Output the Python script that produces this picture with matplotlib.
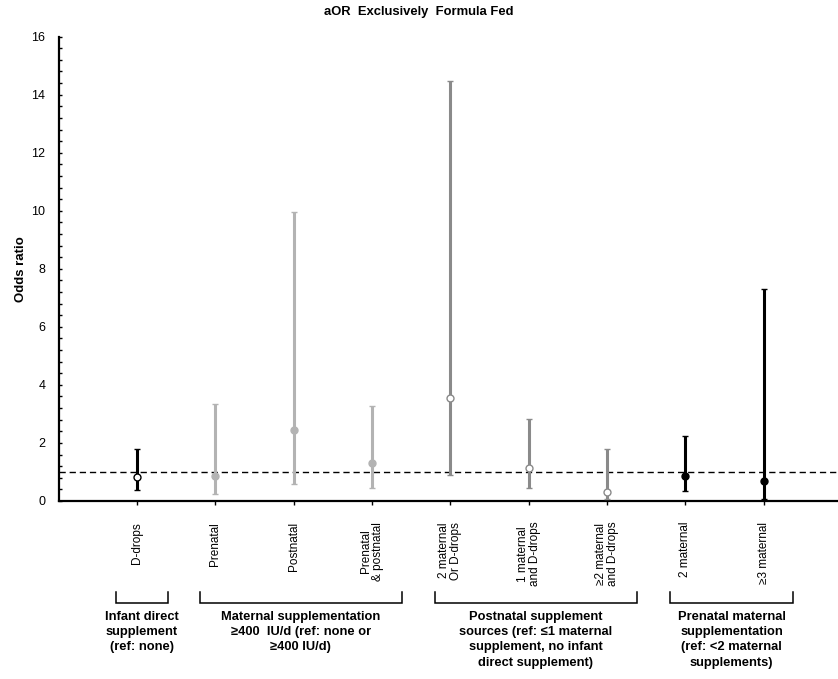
import matplotlib
matplotlib.use("Agg")
import matplotlib.pyplot as plt
import matplotlib.transforms as mtransforms
from matplotlib.ticker import MultipleLocator

plt.rcParams['font.family'] = ['Liberation Sans', 'DejaVu Sans']

# Adjusted odds ratios with 95% confidence intervals
categories = ["D-drops", "Prenatal", "Postnatal", "Prenatal\n& postnatal",
              "2 maternal\nOr D-drops", "1 maternal\nand D-drops",
              "\u22652 maternal\nand D-drops", "2 maternal", "\u22653 maternal"]
odds_ratio = [0.81, 0.86, 2.46, 1.31, 3.56, 1.14, 0.32, 0.87, 0.70]
ci_low = [0.37, 0.25, 0.58, 0.43, 0.91, 0.43, 0.07, 0.35, 0.07]
ci_high = [1.79, 3.35, 9.96, 3.27, 14.47, 2.84, 1.78, 2.24, 7.32]

# Comparison groups: first and last category index of each
group_labels = [
    "Infant direct\nsupplement\n(ref: none)",
    "Maternal supplementation\n\u2265400  IU/d (ref: none or\n\u2265400 IU/d)",
    "Postnatal supplement\nsources (ref: \u22641 maternal\nsupplement, no infant\ndirect supplement)",
    "Prenatal maternal\nsupplementation\n(ref: <2 maternal\nsupplements)",
]
group_span = [(0, 0), (1, 3), (4, 6), (7, 8)]
group_color = ["#000000", "#b3b3b3", "#8a8a8a", "#000000"]
group_open_marker = [True, False, True, False]

fig = plt.figure(figsize=(8.38, 6.79), dpi=100)
ax = fig.add_axes([0.0708, 0.2622, 0.9292, 0.6838])

for g, (a, b) in enumerate(group_span):
    col = group_color[g]
    for i in range(a, b + 1):
        y = odds_ratio[i]
        err = [[y - ci_low[i]], [ci_high[i] - y]]
        ax.errorbar([i], [y], yerr=err, fmt='o', color=col, ecolor=col,
                    elinewidth=2.2, capsize=2.4, capthick=2.0,
                    markersize=5, markeredgewidth=1.0,
                    markerfacecolor='white' if group_open_marker[g] else col,
                    markeredgecolor=col, zorder=3, clip_on=False)

ax.axhline(1.0, color='black', lw=1.0, linestyle=(0, (4.5, 2.8)), zorder=2)

ax.set_xlim(-0.99, 8.95)
ax.set_ylim(0, 16)
ax.set_xticks(range(len(categories)))
ax.set_xticklabels(categories, rotation=90, fontsize=8.5, ha='center',
                   va='top', multialignment='center', linespacing=1.0)
ax.yaxis.set_major_locator(MultipleLocator(2))
ax.yaxis.set_minor_locator(MultipleLocator(0.4))
ax.tick_params(axis='y', which='both', direction='in', length=2.4, width=1.0,
               labelsize=9, pad=10)
ax.tick_params(axis='x', direction='out', length=3, width=1.0, pad=12)
for s in ('top', 'right'):
    ax.spines[s].set_visible(False)
ax.spines['left'].set_linewidth(1.6)
ax.spines['bottom'].set_linewidth(1.6)

ax.set_ylabel("Odds ratio", fontsize=9.5, fontweight='bold')
ax.yaxis.set_label_coords(-0.041, 0.5)
fig.text(0.5, 0.982, "aOR  Exclusively  Formula Fed", ha='center', va='center',
         fontsize=9.4, fontweight='bold')

# Group brackets and labels below the category labels
trans = mtransforms.blended_transform_factory(ax.transData, ax.transAxes)
y_bar, y_tip, y_text = -0.219, -0.195, -0.236
for g, (a, b) in enumerate(group_span):
    x0, x1 = a - 0.2, b + 0.38
    if a == b:
        x0, x1 = a - 0.27, b + 0.4
    ax.plot([x0, x0, x1, x1], [y_tip, y_bar, y_bar, y_tip], color='black',
            lw=1.1, transform=trans, clip_on=False, solid_joinstyle='miter')
    ax.text((x0 + x1) / 2, y_text, group_labels[g], transform=trans,
            ha='center', va='top', fontsize=9.3, fontweight='bold',
            linespacing=1.38, multialignment='center')

fig.savefig("out.png", dpi=100, facecolor='white')
